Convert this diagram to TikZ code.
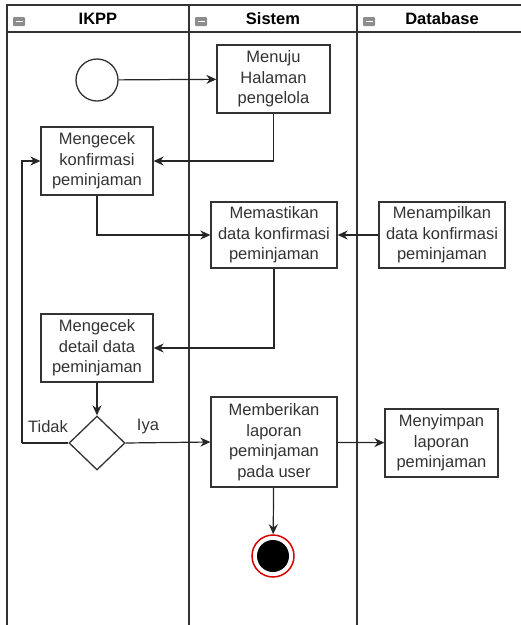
\documentclass[tikz,border=0pt]{standalone}
\usepackage{fontspec}
\setmainfont{Liberation Sans}
\usetikzlibrary{arrows.meta,shapes.geometric}

\begin{document}
\begin{tikzpicture}[x=1pt,y=-1pt,
  lane/.style={draw=black!80,line width=1.8pt},
  act/.style={draw=black!80,line width=1.3pt,fill=white,inner sep=0pt,align=center,
    text=black!80,font=\fontsize{16.5}{20.5}\selectfont},
  flow/.style={draw=black!85,line width=1.2pt,-{Stealth[length=10pt,width=9pt]}},
  link/.style={draw=black!85,line width=1.2pt}]
\useasboundingbox (0,0) rectangle (521,625);
\draw[lane] (7,625)--(7,5)--(521,5);
\draw[lane] (7,32)--(521,32);
\draw[lane] (189,5)--(189,625);
\draw[lane] (357,5)--(357,625);
\foreach \ix in {13,195,363}{
  \fill[black!45,rounded corners=1pt] (\ix,17) rectangle ++(12,9);
  \draw[white,line width=1.6pt] (\ix+2.5,21.5)--(\ix+9.5,21.5);
}
\node[font=\fontsize{16.5}{20}\selectfont\bfseries] (hikpp) at (98,19) {IKPP};
\node[font=\fontsize{16.5}{20}\selectfont\bfseries] (hsistem) at (273,19) {Sistem};
\node[font=\fontsize{16.5}{20}\selectfont\bfseries] (hdb) at (442,19) {Database};

\node[circle,draw=black!80,line width=1.3pt,minimum size=42pt,inner sep=0pt] (mulai) at (97,80) {};
\node[act,minimum width=113pt,minimum height=68pt] (menuju) at (273.5,79) {Menuju\\Halaman\\pengelola};
\node[act,minimum width=112pt,minimum height=68pt] (cekkonf) at (97,161) {Mengecek\\konfirmasi\\peminjaman};
\node[act,minimum width=126pt,minimum height=66pt] (pastikan) at (274,235) {Memastikan\\data konfirmasi\\peminjaman};
\node[act,minimum width=126pt,minimum height=66pt] (tampil) at (442,235) {Menampilkan\\data konfirmasi\\peminjaman};
\node[act,minimum width=112pt,minimum height=68pt] (cekdetail) at (97,348) {Mengecek\\detail data\\peminjaman};
\node[diamond,draw=black!80,line width=1.3pt,fill=white,inner sep=0pt,minimum width=56pt,minimum height=54pt] (cabang) at (97,443) {};
\node[act,minimum width=126pt,minimum height=90pt] (beri) at (274,442) {Memberikan\\laporan\\peminjaman\\pada user};
\node[act,minimum width=113pt,minimum height=68pt] (simpan) at (441.5,443) {Menyimpan\\laporan\\peminjaman};
\node[circle,draw=red!85!black,line width=1.5pt,minimum size=42pt,inner sep=0pt] (selesai) at (273,556) {};
\fill[black] (selesai.center) circle (16pt);

\node[text=black!80,font=\fontsize{16.5}{20}\selectfont] (tidak) at (48,427) {Tidak};
\node[text=black!80,font=\fontsize{16.5}{20}\selectfont] (iya) at (148,427) {Iya};
\coordinate (balik) at (22,443);

\draw[flow] (mulai) -- (menuju);
\draw[flow] (menuju.south) |- (cekkonf.east);
\draw[flow] (cekkonf.south) |- (pastikan.west);
\draw[flow] (tampil) -- (pastikan);
\draw[flow] (pastikan.south) |- (cekdetail.east);
\draw[flow] (cekdetail) -- (cabang);
\draw[link] (cabang.west) -- (balik);
\draw[flow] (balik) |- (cekkonf.west);
\draw[flow] (cabang.east) -- (beri.west);
\draw[flow] (beri) -- (simpan);
\draw[flow] (beri) -- (selesai);
\end{tikzpicture}
\end{document}
